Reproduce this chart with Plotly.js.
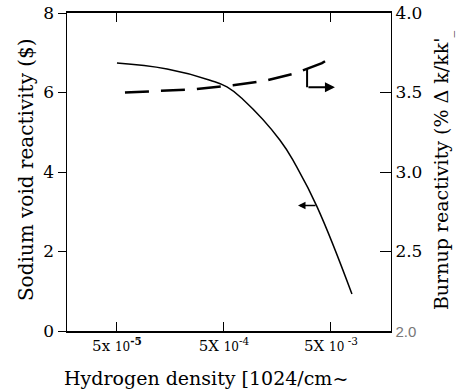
<!DOCTYPE html>
<html><head><meta charset="utf-8">
<script src="https://cdn.plot.ly/plotly-3.0.1.min.js"></script>
<style>body{margin:0;background:#fff}#c{width:458px;height:391px}</style>
</head><body><div id="c"></div><script>
// Sodium void reactivity ($), left axis
const voidX = [5.0e-5, 1.47e-4, 3.7e-4, 5.33e-4, 7.5e-4, 1.67e-3, 2.4e-3, 3.7e-3, 7.85e-3];
const voidY = [6.74, 6.59, 6.31, 6.14, 5.83, 4.80, 4.12, 3.13, 0.93];
// Burnup reactivity (% Δk/kk'), right axis
const burnX = [5.94e-5, 2.68e-4, 6.07e-4, 1.16e-3, 2.31e-3, 4.12e-3, 5.0e-3];
const burnY = [3.50, 3.52, 3.546, 3.571, 3.62, 3.685, 3.72];
const xTickVals = [5e-5, 5e-4, 5e-3];
const xTickText = ["5x <span style='font-size:12px'>10</span><sup><b>-5</b></sup>",
                   "5X <span style='font-size:12px'>10</span><sup>-4</sup>",
                   "5X <span style='font-size:12px'>10</span><sup> -3</sup>"];
const yTickVals = [0, 2, 4, 6, 8];
const y2TickVals = [2.0, 2.5, 3.0, 3.5, 4.0];
const y2TickText = ["<span style='font-family:sans-serif;color:#777;font-size:15px'>2.0</span>", "2.5", "3.0", "3.5", "4.0"];
const xTitle = 'Hydrogen density [1024/cm~';
const yTitle = 'Sodium void reactivity ($)';
const y2Title = "Burnup reactivity (% Δ k/kk'<sub>_</sub>";

const serif = "DejaVu Serif";
const traces = [
  {x: voidX, y: voidY, type: 'scatter', mode: 'lines', yaxis: 'y',
   line: {color: '#000', width: 1.5, shape: 'spline', smoothing: 1.3}, hoverinfo: 'skip'},
  {x: burnX, y: burnY, type: 'scatter', mode: 'lines', yaxis: 'y2',
   line: {color: '#000', width: 2.5, dash: '24px,12px'}, hoverinfo: 'skip'}
];
const layout = {
  width: 458, height: 391,
  margin: {l: 67, r: 67, t: 13, b: 60},
  paper_bgcolor: '#fff', plot_bgcolor: '#fff',
  showlegend: false,
  font: {family: serif, color: '#000', size: 16},
  xaxis: {type: 'log', range: [-4.768, -1.740], tickvals: xTickVals, ticktext: xTickText,
    ticks: 'inside', ticklen: 9, tickwidth: 1, tickcolor: '#000',
    showline: true, linecolor: '#000', linewidth: 2, mirror: 'ticks',
    showgrid: false, zeroline: false, tickfont: {family: serif, size: 15}},
  yaxis: {range: [0, 8], tickvals: yTickVals, ticks: 'outside', ticklen: 8, tickwidth: 1,
    tickcolor: '#000', showline: true, linecolor: '#000', linewidth: 1.5,
    showgrid: false, zeroline: false, tickfont: {family: serif, size: 17}},
  yaxis2: {range: [2.0, 4.0], tickvals: y2TickVals, ticktext: y2TickText, overlaying: 'y',
    side: 'right', ticks: 'inside', ticklen: 11, tickwidth: 1, tickcolor: '#000',
    showline: true, linecolor: '#000', linewidth: 1, showgrid: false, zeroline: false,
    tickfont: {family: serif, size: 17}},
  shapes: [
    {type: 'line', xref: 'paper', yref: 'y2', x0: 0.741, x1: 0.741, y0: 3.647, y1: 3.533,
     line: {color: '#000', width: 2}}
  ],
  annotations: [
    {xref: 'x', yref: 'y', x: -2.609, y: 3.16, ax: 19, ay: 0, text: '', showarrow: true,
     arrowhead: 2, arrowsize: 1, arrowwidth: 1.5, arrowcolor: '#000'},
    {xref: 'x', yref: 'y2', x: -2.264, y: 3.533, ax: -28, ay: 0, text: '', showarrow: true,
     arrowhead: 2, arrowsize: 1, arrowwidth: 2, arrowcolor: '#000'},
    {xref: 'paper', yref: 'paper', x: (206 - 67) / 324, y: -0.148,
     xanchor: 'center', yanchor: 'middle', showarrow: false, text: xTitle,
     font: {family: serif, size: 19}},
    {xref: 'paper', yref: 'paper', x: (26 - 67) / 324, y: 0.506, textangle: -90,
     xanchor: 'center', yanchor: 'middle', showarrow: false, text: yTitle,
     font: {family: serif, size: 20}},
    {xref: 'paper', yref: 'paper', x: (442 - 67) / 324, y: 0.506, textangle: -90,
     xanchor: 'center', yanchor: 'middle', showarrow: false, text: y2Title,
     font: {family: serif, size: 19}}
  ]
};
Plotly.newPlot('c', traces, layout, {displayModeBar: false, staticPlot: true});
</script></body></html>
